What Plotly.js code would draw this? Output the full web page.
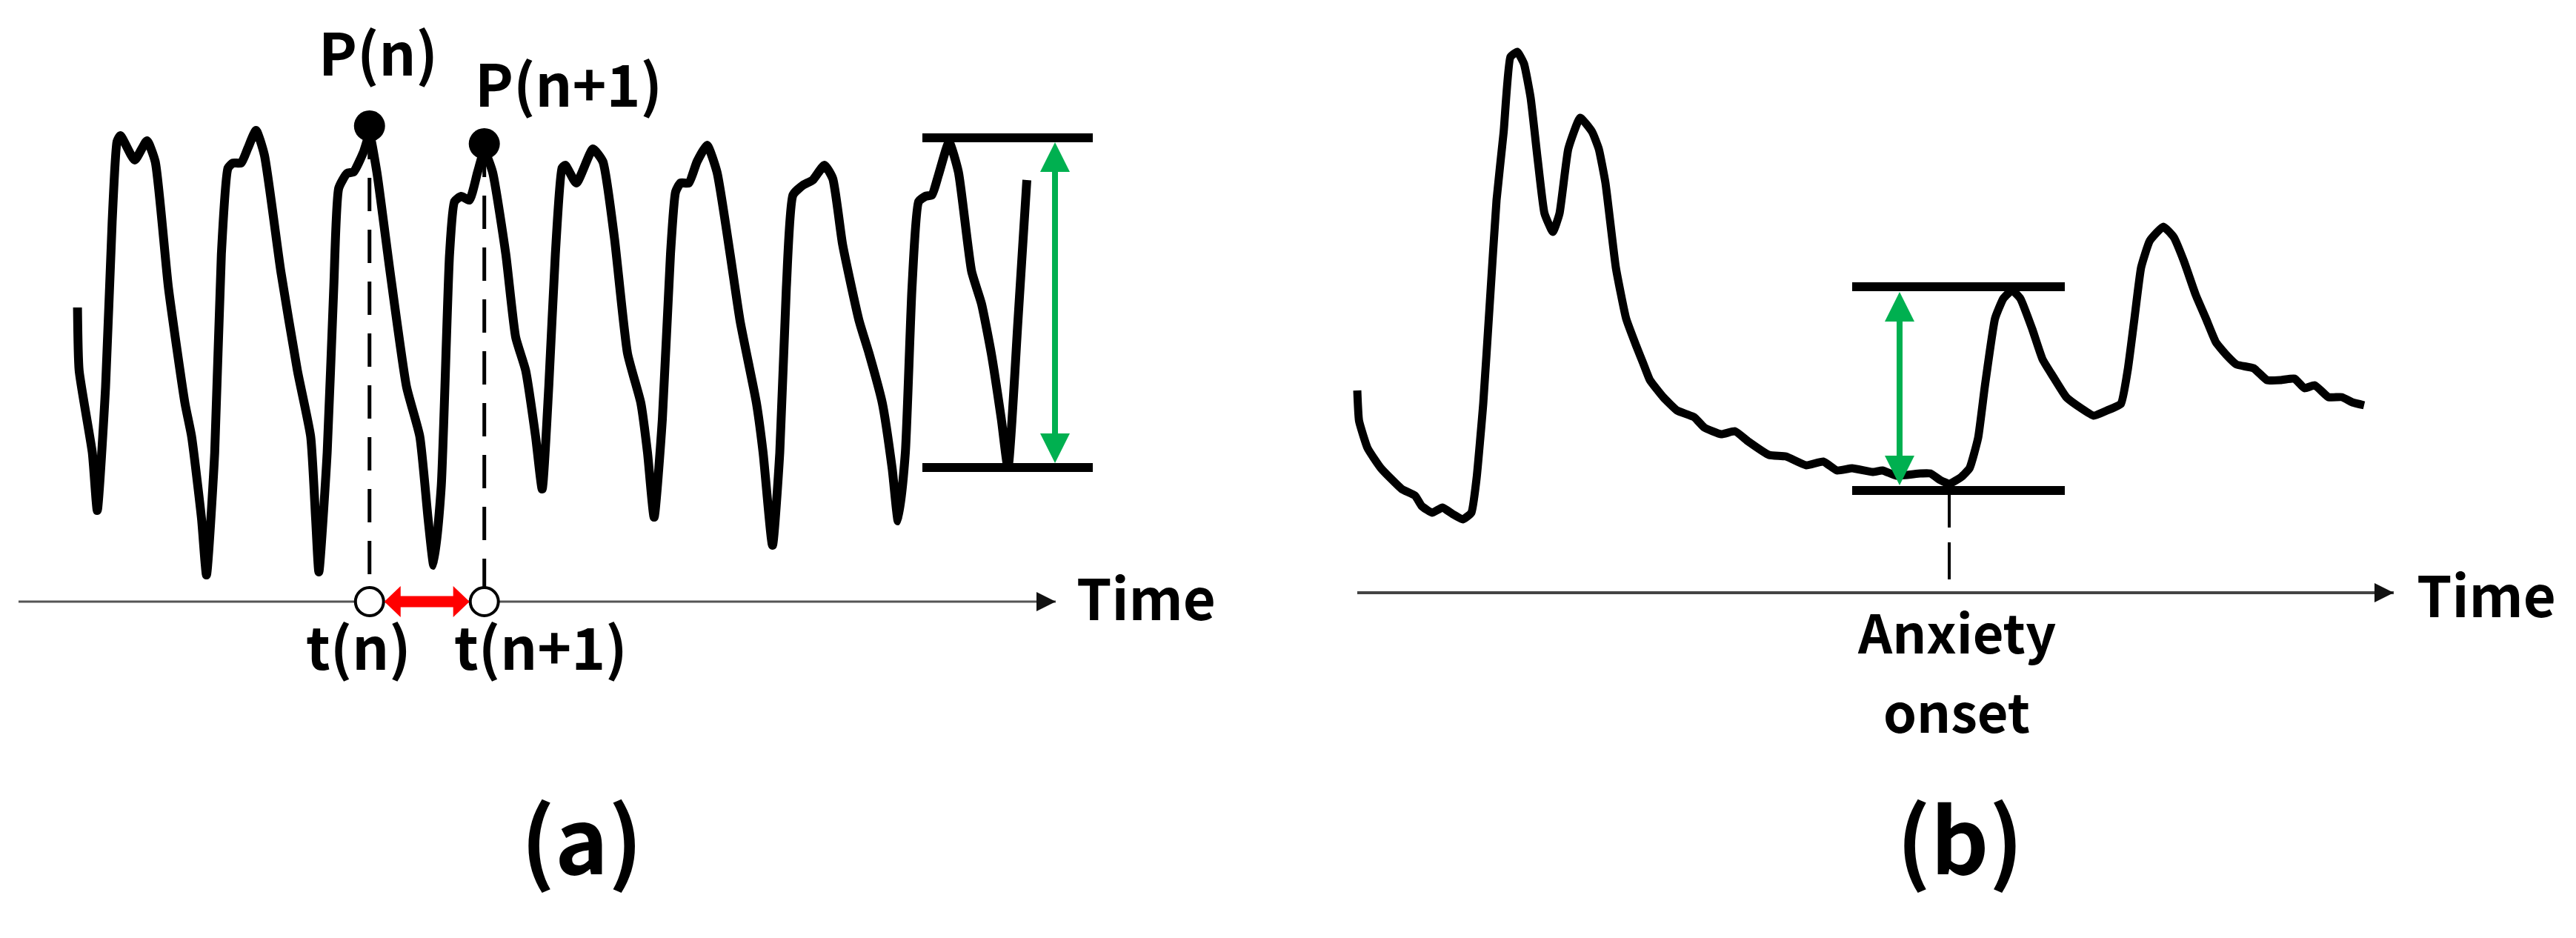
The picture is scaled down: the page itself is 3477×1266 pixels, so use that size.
<!DOCTYPE html>
<html>
<head>
<meta charset="utf-8">
<script src="https://cdn.plot.ly/plotly-3.0.1.min.js"></script>
<style>
  html, body { margin: 0; padding: 0; background: #ffffff; }
  #chart { width: 3477px; height: 1266px; }
</style>
</head>
<body>
<div id="chart"></div>
<script>
// ---------------- DATA ----------------
// Panel (a): pulse waveform (time units, amplitude units above the time axis)
const ppgTime = [79.6, 81.8, 99.6, 106.3, 117.5, 126.4, 133, 137.6, 156.8, 173.3, 184.5, 202.3, 224.6, 233.6, 247, 253.7,
  264.8, 273.8, 282.7, 289.4, 300.5, 309.5, 320.6, 331.8, 354, 376.4, 394.3, 401, 405.4,
  416.6, 425.5, 432.2, 443.4, 452.3, 465.7, 473.75, 483.6, 501.4, 523.7, 541.6, 552.8, 560.4,
  570.6, 581.8, 588.5, 597.5, 608.6, 619.7, 628.7, 639.8, 657.7, 671, 684.5, 697.9, 706.8,
  715.7, 724.6, 733.6, 738, 753, 775.3, 788.7, 804.3, 822, 840, 849, 857.9,
  869, 880, 886.9, 893.6, 904.7, 915.9, 929.3, 942.7, 960.5, 973.9, 996, 1005, 1017.7,
  1027.5, 1036.4, 1045.4, 1058.8, 1072, 1087.8, 1099, 1112.3, 1134.6, 1148, 1165.9, 1179.3, 1187.3,
  1197, 1206, 1215, 1224, 1232.9, 1241.8, 1256, 1268.6, 1286.4, 1299.8, 1313, 1326.6, 1335.5,
  1349, 1361];
const ppgAmp = [397, 312, 201, 123, 290, 513, 621, 629, 596, 622, 594, 424, 268, 223, 112, 36,
  201, 469, 585, 592, 592, 612, 636, 603, 446, 312, 223, 112, 40,
  201, 424, 558, 578, 580, 607, 630, 580, 446, 290, 223, 112, 49,
  156, 469, 540, 547, 542, 580, 608, 580, 469, 357, 312, 223, 152,
  290, 469, 585, 589, 565, 611, 594, 491, 335, 268, 201, 114,
  246, 469, 553, 565, 565, 594, 616, 580, 469, 379, 268, 201, 76,
  201, 424, 549, 562, 569, 589, 571, 482, 379, 335, 268, 179, 109,
  201, 424, 540, 547, 549, 576, 620, 580, 446, 402, 335, 246, 181,
  379, 569];
const peakTime = [473.75, 628.7];
const peakAmp = [642, 618];
const peakLabels = ['P(n)', 'P(n+1)'];
const timeLabels = ['t(n)', 't(n+1)'];
const ppgSwing = [181, 626];          // trough and peak amplitude marked by the bracket
const ppgSwingSpan = [1220, 1450];    // time extent of bracket
const ppgSwingAt = 1399;              // time of the green arrow

// Panel (b): skin conductance response
const gsrTime = [0, 2.4, 14, 32, 60, 78, 87, 101, 115, 129, 142.5, 154, 161, 170, 179, 188, 197.6, 206.7, 216, 225,
  234, 243.5, 252.7, 264, 273, 284.8, 300.9, 317, 326, 335, 349, 362.9, 376.6, 385.8, 395, 413, 431.7,
  454.7, 468.4, 491.4, 509.8, 528, 555.7, 578.6, 606, 629, 647.5, 668, 695.5, 709, 727.7, 759.8, 773.6,
  787, 798.9, 815, 826.4, 838, 847, 860.8, 872, 883.8, 895, 911, 925, 939, 957, 975.6, 994, 1012,
  1030.7, 1040, 1049, 1058, 1069.7, 1088, 1102, 1115.6, 1131.7, 1145.5, 1159, 1173, 1186.8, 1209.8,
  1228, 1246.5, 1265, 1278.6, 1292.4, 1310.8, 1329, 1343, 1359];
const gsrAmp = [273, 232, 195, 168, 140, 131, 117, 108, 115, 106, 99, 108, 154, 255, 393, 530, 622, 723, 730, 714,
  668, 585, 512, 487, 512, 599, 641, 622, 599, 553, 439, 370, 333, 310, 287, 264, 246,
  237, 223, 214, 218, 204, 186, 184, 172, 177, 165, 168, 163, 165, 158, 161, 161,
  152, 147, 156, 168, 209, 278, 370, 397, 408, 397, 356, 315, 292, 264, 250, 239, 246,
  255, 301, 370, 439, 475, 494, 480, 448, 402, 370, 338, 321, 308, 303,
  287, 287, 289, 276, 280, 264, 264, 257, 253];
const gsrSwing = [138, 413];
const gsrSwingSpan = [668, 955];
const gsrSwingAt = 732;
const onsetTime = 799;
const onsetLabel = ['Anxiety', 'onset'];
const axisLabel = 'Time';
const panelLabels = ['(a)', '(b)'];

// ---------------- LAYOUT CONSTANTS ----------------
const W = 3477, H = 1266;
const axisA = [0, 1400];   // time-axis extent, panel (a)
const axisB = [0, 1399];   // time-axis extent, panel (b)
const FONT = '"Noto Sans CJK KR", "Noto Sans", sans-serif';
const GREEN = '#00b050', RED = '#ff0000';

function head(tipX, tipY, dx, dy, len, half, xref, yref, color) {
  // dx,dy: unit direction of arrow travel (1 data unit = 1 px here)
  const bx = tipX - dx * len, by = tipY - dy * len;
  const px = -dy, py = dx;
  const p = `M${tipX},${tipY} L${bx + px * half},${by + py * half} L${bx - px * half},${by - py * half} Z`;
  return {type: 'path', path: p, xref: xref, yref: yref, fillcolor: color, line: {width: 0}, layer: 'above'};
}

const traces = [];
const shapes = [];

// ---- Panel (a) ----
traces.push({x: axisA, y: [0, 0], xaxis: 'x', yaxis: 'y', mode: 'lines', line: {color: '#555555', width: 3}, hoverinfo: 'skip'});
shapes.push(head(axisA[1], 0, 1, 0, 26, 13, 'x', 'y', '#111111'));
peakTime.forEach((t, i) => {
  traces.push({x: [t, t], y: [peakAmp[i], 0], xaxis: 'x', yaxis: 'y', mode: 'lines',
    line: {color: '#000000', width: 5, dash: '45px,25px'}, hoverinfo: 'skip'});
});
traces.push({x: ppgTime, y: ppgAmp, xaxis: 'x', yaxis: 'y', mode: 'lines',
  line: {color: '#000000', width: 12, shape: 'spline', smoothing: 0.5}, hoverinfo: 'skip'});
// red interval arrow between the two time marks
const r = 20;
traces.push({x: [peakTime[0] + r + 15, peakTime[1] - r - 15], y: [0, 0], xaxis: 'x', yaxis: 'y', mode: 'lines',
  line: {color: RED, width: 15}, hoverinfo: 'skip'});
shapes.push(head(peakTime[1] - r, 0, 1, 0, 22, 21, 'x', 'y', RED));
shapes.push(head(peakTime[0] + r, 0, -1, 0, 22, 21, 'x', 'y', RED));
traces.push({x: peakTime, y: [0, 0], xaxis: 'x', yaxis: 'y', mode: 'markers',
  marker: {symbol: 'circle', size: 38, color: '#ffffff', line: {color: '#000000', width: 4}}, hoverinfo: 'skip'});
traces.push({x: peakTime, y: peakAmp, xaxis: 'x', yaxis: 'y', mode: 'markers',
  marker: {symbol: 'circle', size: 42, color: '#000000'}, hoverinfo: 'skip'});
// amplitude bracket
ppgSwing.forEach(a => {
  traces.push({x: ppgSwingSpan, y: [a, a], xaxis: 'x', yaxis: 'y', mode: 'lines',
    line: {color: '#000000', width: 12}, hoverinfo: 'skip'});
});
traces.push({x: [ppgSwingAt, ppgSwingAt], y: [ppgSwing[0] + 30, ppgSwing[1] - 30], xaxis: 'x', yaxis: 'y', mode: 'lines',
  line: {color: GREEN, width: 8}, hoverinfo: 'skip'});
shapes.push(head(ppgSwingAt, ppgSwing[1] - 6, 0, 1, 40, 20, 'x', 'y', GREEN));
shapes.push(head(ppgSwingAt, ppgSwing[0] + 6, 0, -1, 40, 20, 'x', 'y', GREEN));

// ---- Panel (b) ----
traces.push({x: axisB, y: [0, 0], xaxis: 'x2', yaxis: 'y2', mode: 'lines', line: {color: '#444444', width: 4}, hoverinfo: 'skip'});
shapes.push(head(axisB[1], 0, 1, 0, 26, 13, 'x2', 'y2', '#111111'));
traces.push({x: [onsetTime, onsetTime], y: [gsrSwing[0], 0], xaxis: 'x2', yaxis: 'y2', mode: 'lines',
  line: {color: '#000000', width: 4, dash: '50px,20px'}, hoverinfo: 'skip'});
gsrSwing.forEach(a => {
  traces.push({x: gsrSwingSpan, y: [a, a], xaxis: 'x2', yaxis: 'y2', mode: 'lines',
    line: {color: '#000000', width: 12}, hoverinfo: 'skip'});
});
traces.push({x: gsrTime, y: gsrAmp, xaxis: 'x2', yaxis: 'y2', mode: 'lines',
  line: {color: '#000000', width: 11, shape: 'spline', smoothing: 0.4}, hoverinfo: 'skip'});
traces.push({x: [gsrSwingAt, gsrSwingAt], y: [gsrSwing[0] + 30, gsrSwing[1] - 30], xaxis: 'x2', yaxis: 'y2', mode: 'lines',
  line: {color: GREEN, width: 8}, hoverinfo: 'skip'});
shapes.push(head(gsrSwingAt, gsrSwing[1] - 7, 0, 1, 40, 20, 'x2', 'y2', GREEN));
shapes.push(head(gsrSwingAt, gsrSwing[0] + 7, 0, -1, 40, 20, 'x2', 'y2', GREEN));

// ---- Text ----
function label(text, x, y, xref, yref, size, xanchor) {
  return {text: text, x: x, y: y, xref: xref, yref: yref, showarrow: false,
    xanchor: xanchor || 'center', yanchor: 'middle',
    font: {family: FONT, size: size, color: '#000000', weight: 'bold'}};
}
const annotations = [
  label(peakLabels[0], peakTime[0] + 12, 744, 'x', 'y', 78),
  label(peakLabels[1], peakTime[1] + 114, 702, 'x', 'y', 78),
  label(timeLabels[0], peakTime[0] - 15, -58, 'x', 'y', 78),
  label(timeLabels[1], peakTime[1] + 76, -58, 'x', 'y', 78),
  label(axisLabel, axisA[1] + 26, 8, 'x', 'y', 76, 'left'),
  label(panelLabels[0], 760, -314, 'x', 'y', 122),
  label(onsetLabel[0], onsetTime + 10, -50, 'x2', 'y2', 72),
  label(onsetLabel[1], onsetTime + 10, -157, 'x2', 'y2', 72),
  label(axisLabel, axisB[1] + 29, 0, 'x2', 'y2', 76, 'left'),
  label(panelLabels[1], onsetTime + 14, -326, 'x2', 'y2', 122)
];

const layout = {
  width: W, height: H,
  margin: {l: 0, r: 0, t: 0, b: 0, pad: 0},
  paper_bgcolor: '#ffffff', plot_bgcolor: '#ffffff',
  showlegend: false,
  xaxis: {domain: [0, 1], range: [-25, W - 25], visible: false, fixedrange: true},
  yaxis: {domain: [0, 1], range: [812 - H, 812], visible: false, fixedrange: true},
  xaxis2: {domain: [0, 1], range: [-1832, W - 1832], visible: false, overlaying: 'x', anchor: 'y2', fixedrange: true},
  yaxis2: {domain: [0, 1], range: [800 - H, 800], visible: false, overlaying: 'y', anchor: 'x2', fixedrange: true},
  shapes: shapes,
  annotations: annotations
};

Plotly.newPlot('chart', traces, layout, {displayModeBar: false, staticPlot: true});
</script>
</body>
</html>
